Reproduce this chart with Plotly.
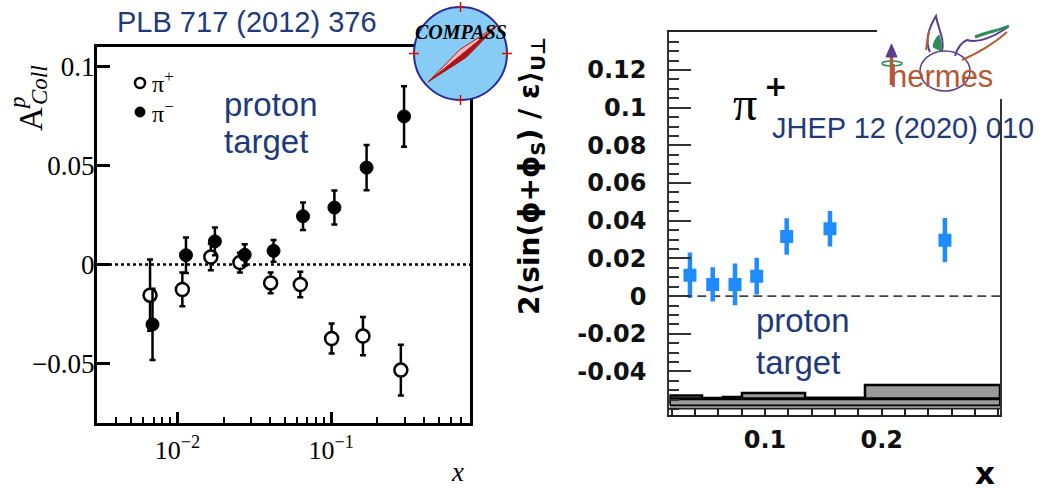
import numpy as np
import plotly.graph_objects as go

W, H = 1042, 491
NAVY = "#1f3a7a"


def px(x):
    return x / W


def py(y):
    return 1 - y / H


# ---------------- COMPASS, proton target (left panel) ----------------
x_pip = [0.00664, 0.01077, 0.0165, 0.0255, 0.0404, 0.063, 0.1007, 0.161, 0.284]
a_pip = [-0.0155, -0.0126, 0.0038, 0.0010, -0.0093, -0.0101, -0.0374, -0.0362, -0.0534]
e_pip = [0.018, 0.0085, 0.0067, 0.005, 0.0052, 0.0065, 0.0076, 0.0097, 0.0128]

x_pim = [0.00689, 0.01137, 0.01754, 0.0274, 0.0422, 0.0656, 0.1050, 0.170, 0.298]
a_pim = [-0.0303, 0.0047, 0.0117, 0.0049, 0.0069, 0.0244, 0.0288, 0.0490, 0.0749]
e_pim = [0.018, 0.009, 0.007, 0.0054, 0.0055, 0.007, 0.0086, 0.0115, 0.0153]

left_ytick_vals = [-0.05, 0, 0.05, 0.1]
left_ytick_text = ["\u22120.05", "0", "0.05", "0.1"]
left_xtick_vals = [0.01, 0.1]
left_xtick_text = ["10<sup>\u22122</sup>", "10<sup>\u22121</sup>"]

# ---------------- HERMES, pi+ (right panel) ----------------
x_h = [0.0357, 0.0552, 0.0743, 0.0929, 0.1186, 0.1557, 0.2542]
a_h = [0.0111, 0.0062, 0.0062, 0.0106, 0.0316, 0.0357, 0.0297]
e_h = [0.0121, 0.0091, 0.0111, 0.0097, 0.0097, 0.0094, 0.0117]

sys_edges = [0.0186, 0.046, 0.064, 0.0803, 0.1343, 0.1857, 0.3014]
sys_err = [0.0017, 0.0003, 0.0008, 0.0030, 0.0005, 0.0072]
sys_base = -0.0544
scale_band = [-0.0580, -0.0548]

right_ytick_vals = [-0.04, -0.02, 0, 0.02, 0.04, 0.06, 0.08, 0.1, 0.12]
right_ytick_text = ["-0.04", "-0.02", "0", "0.02", "0.04", "0.06", "0.08", "0.1", "0.12"]
right_xtick_vals = [0.1, 0.2]
right_xtick_text = ["0.1", "0.2"]

fig = go.Figure()

# left panel points
fig.add_trace(go.Scatter(
    x=x_pip, y=a_pip, mode="markers", xaxis="x", yaxis="y",
    error_y=dict(type="data", array=e_pip, color="black", thickness=2.5, width=3),
    marker=dict(symbol="circle", size=13, color="white", line=dict(color="black", width=2.5)),
    showlegend=False,
))
fig.add_trace(go.Scatter(
    x=x_pim, y=a_pim, mode="markers", xaxis="x", yaxis="y",
    error_y=dict(type="data", array=e_pim, color="black", thickness=2.5, width=3),
    marker=dict(symbol="circle", size=13, color="black", line=dict(color="black", width=1)),
    showlegend=False,
))

# right panel systematic band (step histogram)
sx = [sys_edges[0]]
sy = [sys_base]
for i, err in enumerate(sys_err):
    sx += [sys_edges[i], sys_edges[i + 1]]
    sy += [sys_base + err, sys_base + err]
sx += [sys_edges[-1], sys_edges[0]]
sy += [sys_base, sys_base]
fig.add_trace(go.Scatter(
    x=sx, y=sy, mode="lines", xaxis="x2", yaxis="y2", fill="toself",
    fillcolor="#9a9a9a", line=dict(color="black", width=2.5), showlegend=False,
    hoverinfo="skip",
))
fig.add_trace(go.Scatter(
    x=[sys_edges[0], sys_edges[-1], sys_edges[-1], sys_edges[0], sys_edges[0]],
    y=[scale_band[0], scale_band[0], scale_band[1], scale_band[1], scale_band[0]],
    mode="lines", xaxis="x2", yaxis="y2", fill="toself",
    fillcolor="#9a9a9a", line=dict(color="black", width=2), showlegend=False,
    hoverinfo="skip",
))

# right panel points
fig.add_trace(go.Scatter(
    x=x_h, y=a_h, mode="markers", xaxis="x2", yaxis="y2",
    error_y=dict(type="data", array=e_h, color="#1e8cff", thickness=4.5, width=0),
    marker=dict(symbol="square", size=13, color="#1e8cff"),
    showlegend=False,
))

shapes = []
# zero lines
shapes.append(dict(type="line", xref="x domain", yref="y", x0=0, x1=1, y0=0, y1=0,
                   line=dict(color="black", width=2.5, dash="3px,3px"), layer="below"))
shapes.append(dict(type="line", xref="x2 domain", yref="y2", x0=0, x1=1, y0=0, y1=0,
                   line=dict(color="#444", width=1.8, dash="9px,5px"), layer="below"))
# lower strip of the right panel
shapes.append(dict(type="line", xref="x2 domain", yref="y2", x0=0, x1=1, y0=-0.0596, y1=-0.0596,
                   line=dict(color="#222", width=2)))

# COMPASS logo
cx, cy, r = 460.5, 53.5, 46.5
shapes.append(dict(type="circle", xref="paper", yref="paper",
                   x0=px(cx - r), x1=px(cx + r), y0=py(cy + r), y1=py(cy - r),
                   fillcolor="#86ccf4", line=dict(color="#2a2a9a", width=2), layer="above"))
for (ax, ay, dx, dy) in [(cx, cy - r, 0, 5), (cx, cy + r, 0, 5), (cx - r, cy, 5, 0), (cx + r, cy, 5, 0)]:
    shapes.append(dict(type="line", xref="paper", yref="paper",
                       x0=px(ax - dx), x1=px(ax + dx), y0=py(ay - dy), y1=py(ay + dy),
                       line=dict(color="#d01010", width=1.5), layer="above"))
    shapes.append(dict(type="line", xref="paper", yref="paper",
                       x0=px(ax - dy * 0.6), x1=px(ax + dy * 0.6), y0=py(ay - dx * 0.6), y1=py(ay + dx * 0.6),
                       line=dict(color="#d01010", width=1.5), layer="above"))
t1 = np.array([428.0, 82.0])
t2 = np.array([498.0, 25.0])
c = (t1 + t2) / 2
u = (t2 - t1) / np.linalg.norm(t2 - t1)
n = np.array([u[1], -u[0]])
w = 5.0
pA = c + n * w
pB = c - n * w


def path(points):
    s = "M " + " L ".join(f"{px(p[0]):.5f},{py(p[1]):.5f}" for p in points) + " Z"
    return s


shapes.append(dict(type="path", xref="paper", yref="paper", path=path([t1, pA, t2]),
                   fillcolor="#f4b8b8", line=dict(color="#b01818", width=1), layer="above"))
shapes.append(dict(type="path", xref="paper", yref="paper", path=path([t1, pB, t2]),
                   fillcolor="#b01218", line=dict(color="#b01818", width=1), layer="above"))

# HERMES logo
shapes.append(dict(type="rect", xref="paper", yref="paper", x0=px(877), x1=px(1042), y0=py(99), y1=py(0),
                   fillcolor="white", line=dict(width=0), layer="above"))
PURPLE, GREEN, BROWN = "#5a3d8f", "#2e8b57", "#b35a34"


def cpath(s):
    out = []
    for cmd, pts in s:
        out.append(cmd + " " + " ".join(f"{px(a):.5f},{py(b):.5f}" for a, b in pts))
    return " ".join(out)


shapes.append(dict(type="circle", xref="paper", yref="paper", x0=px(920), x1=px(970), y0=py(91), y1=py(51),
                   line=dict(color=PURPLE, width=1.5), layer="above"))
shapes.append(dict(type="path", xref="paper", yref="paper", layer="above",
                   path=cpath([("M", [(930, 52)]), ("C", [(924, 40), (930, 26), (936, 16)]),
                               ("C", [(938, 28), (945, 40), (942, 51)])]),
                   line=dict(color=PURPLE, width=2)))
shapes.append(dict(type="path", xref="paper", yref="paper", layer="above",
                   path=cpath([("M", [(933, 47)]), ("C", [(934, 40), (937, 37), (939, 35)]),
                               ("C", [(941, 41), (942, 46), (941, 51)]), ("Z", [])]),
                   fillcolor=GREEN, line=dict(color=GREEN, width=1)))
shapes.append(dict(type="path", xref="paper", yref="paper", layer="above",
                   path=cpath([("M", [(926, 50)]), ("L", [(929, 31)])]),
                   line=dict(color=BROWN, width=2)))
shapes.append(dict(type="path", xref="paper", yref="paper", layer="above",
                   path=cpath([("M", [(955, 56)]), ("C", [(958, 46), (962, 42), (967, 40)]),
                               ("C", [(978, 44), (995, 36), (1008, 27)])]),
                   line=dict(color=PURPLE, width=2)))
shapes.append(dict(type="path", xref="paper", yref="paper", layer="above",
                   path=cpath([("M", [(962, 60)]), ("C", [(980, 52), (996, 42), (1007, 32)])]),
                   line=dict(color=BROWN, width=2)))
shapes.append(dict(type="path", xref="paper", yref="paper", layer="above",
                   path=cpath([("M", [(975, 37)]), ("C", [(988, 32), (1000, 30), (1009, 26)])]),
                   line=dict(color=GREEN, width=3)))
shapes.append(dict(type="circle", xref="paper", yref="paper", x0=px(882), x1=px(902), y0=py(66), y1=py(61),
                   line=dict(color=GREEN, width=1.5), layer="above"))

# legend symbols of the left panel
shapes.append(dict(type="circle", xref="paper", yref="paper", x0=px(135), x1=px(145), y0=py(88), y1=py(78),
                   fillcolor="white", line=dict(color="black", width=2.5)))
shapes.append(dict(type="circle", xref="paper", yref="paper", x0=px(135), x1=px(145), y0=py(117), y1=py(107),
                   fillcolor="black", line=dict(color="black", width=1)))

annotations = []


def ann(text, x, y, size, color="black", family="Liberation Sans", xanchor="center",
        yanchor="middle", angle=0, weight="normal", style="normal"):
    annotations.append(dict(text=text, x=px(x), y=py(y), xref="paper", yref="paper",
                            showarrow=False, xanchor=xanchor, yanchor=yanchor, textangle=angle,
                            font=dict(size=size, color=color, family=family, weight=weight, style=style)))


ann("PLB 717 (2012) 376", 247, 22, 29, NAVY)
ann("JHEP 12 (2020) 010", 903, 128, 29, NAVY)
ann("proton", 222, 104, 33, NAVY, xanchor="left")
ann("target", 222, 142, 33, NAVY, xanchor="left")
ann("proton", 754, 320, 33, NAVY, xanchor="left")
ann("target", 754, 362, 33, NAVY, xanchor="left")
ann("\u03c0<sup>+</sup>", 150, 82, 24, family="Liberation Serif", xanchor="left")
ann("\u03c0<sup>\u2212</sup>", 150, 112, 24, family="Liberation Serif", xanchor="left")
ann("A", 31, 119, 33, family="Liberation Serif", angle=-90)
ann("p", 17, 103, 23, family="Liberation Serif", angle=-90, style="italic")
ann("Coll", 40, 85, 23, family="Liberation Serif", angle=-90, style="italic")
ann("x", 457, 489, 27, family="Liberation Serif", style="italic", yanchor="bottom")
ann("x", 985, 473, 31, family="DejaVu Sans", weight="bold")
ann("\u03c0", 745, 103, 48, family="Liberation Serif")
ann("+", 775, 86, 28, family="DejaVu Sans", weight="bold")
ann("2\u27e8sin(\u03d5+\u03d5<sub>S</sub>) / \u03b5\u27e9<sub>U\u22a5</sub>", 532, 176, 28,
    family="DejaVu Sans", angle=-90, weight="bold")
ann("COMPASS", 461, 32, 20, family="Liberation Serif", weight="bold", style="italic")
ann("hermes", 941, 76, 31, BROWN)

fig.update_layout(shapes=shapes, annotations=annotations)

# arrow of the HERMES logo drawn after the text
fig.add_shape(type="line", xref="paper", yref="paper", x0=px(891.5), x1=px(891.5), y0=py(85), y1=py(54),
              line=dict(color=BROWN, width=3.5), layer="above")
fig.add_shape(type="path", xref="paper", yref="paper", layer="above",
              path=path([(886, 57), (897, 57), (891.5, 44)]), fillcolor=PURPLE, line=dict(color=PURPLE, width=1))

fig.update_layout(
    width=W, height=H, margin=dict(l=0, r=0, t=0, b=0),
    paper_bgcolor="white", plot_bgcolor="white",
    xaxis=dict(
        type="log", range=[np.log10(0.003), np.log10(0.8)], domain=[px(97), px(470)], anchor="y",
        showgrid=False, zeroline=False, showline=True, linecolor="black", linewidth=3, mirror=True,
        ticks="inside", tickvals=left_xtick_vals, ticktext=left_xtick_text, ticklen=11, tickwidth=2.5,
        tickcolor="black", ticklabelstandoff=2,
        tickfont=dict(family="Liberation Serif", size=26, color="black"),
        minor=dict(ticks="inside", ticklen=6, tickwidth=2, tickcolor="black",
                   tickvals=[m * 10.0 ** k for k in (-3, -2, -1) for m in range(2, 10)
                             if 0.003 <= m * 10.0 ** k <= 0.8]),
    ),
    yaxis=dict(
        range=[-0.08, 0.11], domain=[py(422.7), py(47)], anchor="x",
        showgrid=False, zeroline=False, showline=True, linecolor="black", linewidth=3, mirror=True,
        ticks="inside", tickvals=left_ytick_vals, ticktext=left_ytick_text, ticklen=13, tickwidth=3,
        tickcolor="black", ticklabelstandoff=-6,
        tickfont=dict(family="Liberation Serif", size=27, color="black"),
    ),
    xaxis2=dict(
        range=[0.018, 0.3014], domain=[px(669.3), px(1000)], anchor="y2",
        showgrid=False, zeroline=False, showline=True, linecolor="#222", linewidth=2, mirror=True,
        ticks="inside", tickvals=right_xtick_vals, ticktext=right_xtick_text, ticklen=7, tickwidth=1.5,
        tickcolor="#222", ticklabelstandoff=2,
        tickfont=dict(family="DejaVu Sans", size=24, color="#111", weight="bold"),
        minor=dict(ticks="inside", ticklen=7, tickwidth=1.5, tickcolor="#222",
                   tickvals=list(np.round(np.arange(0.02, 0.301, 0.02), 3))),
    ),
    yaxis2=dict(
        range=[-0.0631, 0.14], domain=[py(415), py(32.3)], anchor="x2",
        showgrid=False, zeroline=False, showline=True, linecolor="#333", linewidth=2, mirror=True,
        ticks="inside", tickvals=right_ytick_vals, ticktext=right_ytick_text, ticklen=22, tickwidth=1.5,
        tickcolor="#333", ticklabelstandoff=16,
        tickfont=dict(family="DejaVu Sans", size=24, color="#111", weight="bold"),
        minor=dict(ticks="inside", ticklen=10, tickwidth=1.5, tickcolor="#333",
                   tickvals=list(np.round(np.arange(-0.06, 0.1401, 0.005), 4))),
    ),
)

fig.write_html("out.html")
